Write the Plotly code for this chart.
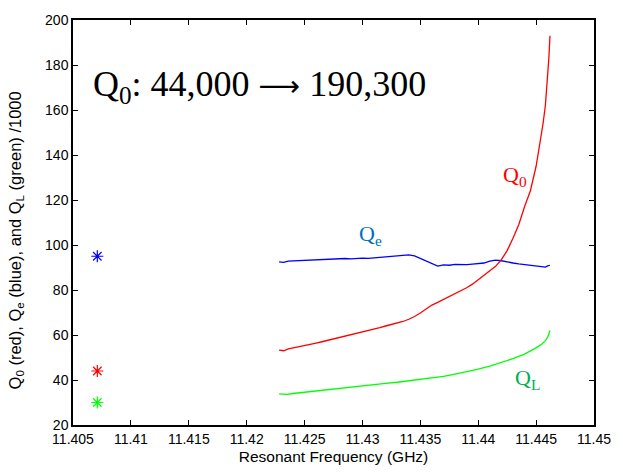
import plotly.graph_objects as go

# Single measurement points (stars)
star_x = [11.4071]
star_q0 = [44.0]
star_qe = [95.0]
star_ql = [30.0]

# Q0 (red)
q0_x = [11.4228, 11.4232, 11.4236, 11.424, 11.4245, 11.425, 11.4255, 11.426, 11.4265, 11.427,
        11.4275, 11.428, 11.4285, 11.429, 11.4295, 11.430, 11.4305, 11.431, 11.4315, 11.432,
        11.4325, 11.433, 11.4335, 11.434, 11.4345, 11.435, 11.4355, 11.436, 11.4365, 11.437,
        11.4375, 11.438, 11.4385, 11.439, 11.4395, 11.440, 11.4405, 11.441, 11.4415, 11.442,
        11.4425, 11.443, 11.4435, 11.444, 11.4445, 11.445, 11.4453, 11.4456, 11.4458, 11.446,
        11.4461, 11.4462]
q0_y = [53.3, 53.0, 53.8, 54.2, 54.6, 55.2, 55.8, 56.4, 57.0, 57.6,
        58.3, 58.9, 59.5, 60.2, 60.8, 61.4, 62.0, 62.7, 63.3, 64.0,
        64.6, 65.2, 66.0, 67.0, 68.2, 69.8, 71.5, 73.3, 74.5, 75.8,
        77.0, 78.3, 79.5, 81.0, 82.6, 84.5, 86.3, 88.2, 90.5, 93.5,
        97.5, 103.0, 109.0, 117.0, 124.0, 135.0, 144.0, 154.0, 162.0, 175.0,
        183.0, 193.0]

# Qe (blue)
qe_x = [11.4228, 11.4232, 11.4236, 11.424, 11.4245, 11.425, 11.4255, 11.426, 11.4265, 11.427,
        11.4275, 11.428, 11.4285, 11.429, 11.4295, 11.430, 11.4305, 11.431, 11.4315, 11.432,
        11.4325, 11.433, 11.4335, 11.434, 11.4345, 11.435, 11.4355, 11.436, 11.4365, 11.437,
        11.4375, 11.438, 11.4385, 11.439, 11.4395, 11.440, 11.4405, 11.441, 11.4415, 11.442,
        11.4425, 11.443, 11.4435, 11.444, 11.4445, 11.445, 11.4455, 11.4458, 11.446, 11.4462]
qe_y = [92.5, 92.3, 92.8, 92.9, 93.0, 93.2, 93.4, 93.5, 93.6, 93.8,
        93.7, 93.9, 94.0, 93.8, 94.1, 94.2, 94.1, 94.3, 94.4, 94.6,
        94.9, 95.2, 95.5, 95.6, 95.2, 94.0, 92.8, 91.6, 90.6, 91.2,
        91.0, 91.4, 91.2, 91.3, 91.5, 91.9, 92.0, 92.8, 93.3, 93.0,
        92.4, 92.0, 91.6, 91.3, 91.0, 90.6, 90.4, 90.2, 90.7, 91.0]

# QL (green)
ql_x = [11.4228, 11.4235, 11.424, 11.425, 11.426, 11.427, 11.428, 11.429, 11.430, 11.431,
        11.432, 11.433, 11.434, 11.435, 11.436, 11.437, 11.438, 11.439, 11.440, 11.441,
        11.442, 11.443, 11.444, 11.4445, 11.445, 11.4455, 11.4458, 11.446, 11.4462]
ql_y = [33.8, 33.6, 34.0, 34.6, 35.1, 35.6, 36.2, 36.8, 37.4, 37.9,
        38.5, 39.0, 39.6, 40.2, 40.9, 41.6, 42.6, 43.6, 44.8, 46.2,
        47.7, 49.5, 51.5, 52.8, 54.3, 56.0, 57.5, 59.0, 62.0]

x_ticks = [11.405, 11.41, 11.415, 11.42, 11.425, 11.43, 11.435, 11.44, 11.445, 11.45]
x_tick_text = ["11.405", "11.41", "11.415", "11.42", "11.425", "11.43", "11.435", "11.44", "11.445", "11.45"]
y_ticks = [20, 40, 60, 80, 100, 120, 140, 160, 180, 200]

RED, BLUE, GREEN = "#ff0000", "#0000ff", "#00ff00"

fig = go.Figure()
fig.add_trace(go.Scatter(x=qe_x, y=qe_y, mode="lines", line=dict(color=BLUE, width=1.3)))
fig.add_trace(go.Scatter(x=q0_x, y=q0_y, mode="lines", line=dict(color=RED, width=1.3)))
fig.add_trace(go.Scatter(x=ql_x, y=ql_y, mode="lines", line=dict(color=GREEN, width=1.3)))
for yy, c in [(star_qe, BLUE), (star_q0, RED), (star_ql, GREEN)]:
    fig.add_trace(go.Scatter(x=star_x, y=yy, mode="markers",
                             marker=dict(symbol="asterisk-open", size=10, color=c,
                                         line=dict(color=c, width=1.2))))

fig.add_annotation(x=11.40658, y=170.5, xref="x", yref="y", xanchor="left", yanchor="middle",
                   text="Q<sub>0</sub>: 44,000 <span style='font-family:DejaVu Sans;font-size:29px'>⟶</span> 190,300",
                   showarrow=False,
                   font=dict(family="Liberation Serif", size=36, color="black"))
fig.add_annotation(x=11.4420, y=130.6, xref="x", yref="y", xanchor="left", yanchor="middle",
                   text="Q<sub>0</sub>", showarrow=False,
                   font=dict(family="Liberation Serif", size=22, color="#ff0000"))
fig.add_annotation(x=11.42957, y=104.6, xref="x", yref="y", xanchor="left", yanchor="middle",
                   text="Q<sub>e</sub>", showarrow=False,
                   font=dict(family="Liberation Serif", size=22, color="#0070c0"))
fig.add_annotation(x=11.4430, y=40.4, xref="x", yref="y", xanchor="left", yanchor="middle",
                   text="Q<sub>L</sub>", showarrow=False,
                   font=dict(family="Liberation Serif", size=22, color="#00b050"))
# y-axis title as rotated annotation
fig.add_annotation(x=-0.11, y=0.455, xref="paper", yref="paper", xanchor="center", yanchor="middle",
                   textangle=-90, showarrow=False,
                   text="Q<sub>0</sub> (red), Q<sub>e</sub> (blue), and Q<sub>L</sub> (green) /1000",
                   font=dict(family="Liberation Sans", size=16.5, color="black"))

axis_common = dict(showgrid=False, zeroline=False, showline=True, linecolor="black", linewidth=1.5,
                   mirror="ticks", ticks="inside", ticklen=5, tickcolor="black",
                   tickfont=dict(family="Liberation Sans", size=14, color="black"))
fig.update_xaxes(range=[11.405, 11.45], tickvals=x_ticks, ticktext=x_tick_text,
                 title=dict(text="Resonant Frequency (GHz)", standoff=6,
                            font=dict(family="Liberation Sans", size=15.5, color="black")),
                 **axis_common)
fig.update_yaxes(range=[20, 200], tickvals=y_ticks, **axis_common)
fig.update_layout(width=623, height=475, margin=dict(l=73, r=21, t=12, b=48),
                  plot_bgcolor="white", paper_bgcolor="white", showlegend=False)
fig.write_html("out.html")
